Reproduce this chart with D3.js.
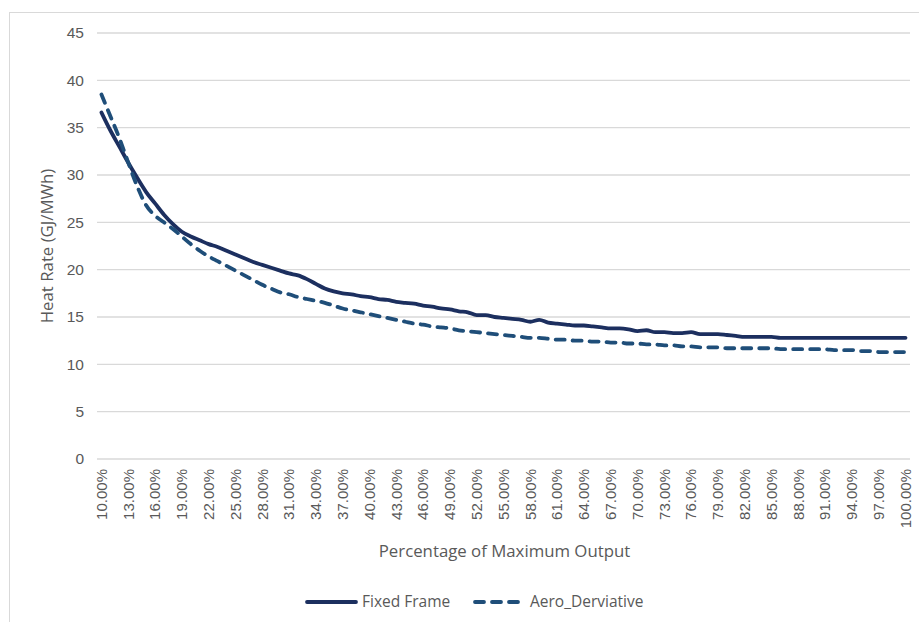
<!DOCTYPE html>
<html>
<head>
<meta charset="utf-8">
<script src="https://cdn.jsdelivr.net/npm/d3@7/dist/d3.min.js"></script>
<style>
  html, body { margin: 0; padding: 0; background: #fff; }
  svg { display: block; font-family: "Open Sans", "Noto Sans", sans-serif; }
</style>
</head>
<body>
<svg id="chart" width="919" height="622"></svg>
<script>
/* data */
const categories = d3.range(10, 101).map(p => p.toFixed(2) + '%')

const fixedFrame = [
  36.6, 34.7, 33.0, 31.3, 29.7, 28.2, 27.0, 25.8, 24.8, 24.0,
  23.5, 23.1, 22.7, 22.4, 22.0, 21.6, 21.2, 20.8, 20.5, 20.2,
  19.9, 19.6, 19.4, 19.0, 18.5, 18.0, 17.7, 17.5, 17.4, 17.2,
  17.1, 16.9, 16.8, 16.6, 16.5, 16.4, 16.2, 16.1, 15.9, 15.8,
  15.6, 15.5, 15.2, 15.2, 15.0, 14.9, 14.8, 14.7, 14.5, 14.7,
  14.4, 14.3, 14.2, 14.1, 14.1, 14.0, 13.9, 13.8, 13.8, 13.7,
  13.5, 13.6, 13.4, 13.4, 13.3, 13.3, 13.4, 13.2, 13.2, 13.2,
  13.1, 13.0, 12.9, 12.9, 12.9, 12.9, 12.8, 12.8, 12.8, 12.8,
  12.8, 12.8, 12.8, 12.8, 12.8, 12.8, 12.8, 12.8, 12.8, 12.8,
  12.8
]

const aeroDerivative = [
  38.5, 36.2, 33.9, 31.3, 28.8, 26.8, 25.7, 25.0, 24.3, 23.5,
  22.7, 22.0, 21.4, 20.9, 20.4, 19.9, 19.4, 18.9, 18.4, 18.0,
  17.6, 17.4, 17.1, 16.9, 16.7, 16.5, 16.2, 15.9, 15.7, 15.5,
  15.3, 15.1, 14.9, 14.7, 14.5, 14.3, 14.2, 14.0, 13.9, 13.8,
  13.6, 13.5, 13.4, 13.3, 13.2, 13.1, 13.0, 12.9, 12.8, 12.8,
  12.7, 12.6, 12.6, 12.5, 12.5, 12.4, 12.4, 12.3, 12.3, 12.2,
  12.2, 12.1, 12.1, 12.0, 12.0, 11.9, 11.9, 11.8, 11.8, 11.8,
  11.7, 11.7, 11.7, 11.7, 11.7, 11.7, 11.6, 11.6, 11.6, 11.6,
  11.6, 11.6, 11.5, 11.5, 11.5, 11.4, 11.4, 11.3, 11.3, 11.3,
  11.3
]

const yTicks = [0, 5, 10, 15, 20, 25, 30, 35, 40, 45]
const xTickEvery = 3

const series = [
  { name: 'Fixed Frame', values: fixedFrame, color: '#1c2f5f', dash: null },
  { name: 'Aero_Derviative', values: aeroDerivative, color: '#1f4e79', dash: '9,8' }
]

/* layout */
const W = 919, H = 622
const m = { left: 97, right: 9, top: 33, bottom: 163 }
const iw = W - m.left - m.right
const ih = H - m.top - m.bottom
const textColor = '#595959'

const svg = d3.select('#chart')

// outer chart border
svg.append('rect')
  .attr('x', 9.5).attr('y', 12.5)
  .attr('width', W).attr('height', H)
  .attr('fill', 'none')
  .attr('stroke', '#d9d9d9')
  .attr('stroke-width', 1)

const g = svg.append('g').attr('transform', `translate(${m.left},${m.top})`)

const x = d3.scaleBand().domain(categories).range([0, iw]).padding(0)
const y = d3.scaleLinear().domain([0, 45]).range([ih, 0])

/* gridlines */
g.append('g')
  .selectAll('line')
  .data(yTicks)
  .join('line')
  .attr('x1', 0).attr('x2', iw)
  .attr('y1', d => y(d)).attr('y2', d => y(d))
  .attr('stroke', '#d9d9d9')
  .attr('stroke-width', 1.3)

/* y axis */
const yAxis = g.append('g')
  .call(d3.axisLeft(y).tickValues(yTicks).tickSize(0).tickPadding(13))
yAxis.select('.domain').remove()
yAxis.selectAll('text')
  .attr('fill', textColor)
  .style('font-size', '15.5px')

/* x axis */
const xAxis = g.append('g')
  .attr('transform', `translate(0,${ih})`)
  .call(d3.axisBottom(x)
    .tickValues(categories.filter((d, i) => i % xTickEvery === 0))
    .tickSize(0))
xAxis.select('.domain').remove()
xAxis.selectAll('text')
  .attr('fill', textColor)
  .style('font-size', '15px')
  .attr('transform', 'rotate(-90)')
  .attr('text-anchor', 'end')
  .attr('x', -10)
  .attr('y', 0)
  .attr('dy', '0.35em')

/* axis titles */
svg.append('text')
  .attr('x', m.left + iw / 2 + 1)
  .attr('y', 557)
  .attr('text-anchor', 'middle')
  .attr('fill', textColor)
  .style('font-size', '16.8px')
  .text('Percentage of Maximum Output')

svg.append('text')
  .attr('transform', `translate(53,${m.top + ih / 2}) rotate(-90)`)
  .attr('text-anchor', 'middle')
  .attr('fill', textColor)
  .style('font-size', '16.8px')
  .text('Heat Rate (GJ/MWh)')

/* lines */
const line = d3.line()
  .x((d, i) => x(categories[i]) + x.bandwidth() / 2)
  .y(d => y(d))
  .curve(d3.curveMonotoneX)

g.selectAll('path.series')
  .data(series)
  .join('path')
  .attr('class', 'series')
  .attr('d', d => line(d.values))
  .attr('fill', 'none')
  .attr('stroke', d => d.color)
  .attr('stroke-width', 3.8)
  .attr('stroke-linecap', 'round')
  .attr('stroke-linejoin', 'round')
  .attr('stroke-dasharray', d => d.dash)

/* legend */
const legendX = [305, 473]
const legend = svg.append('g')
  .selectAll('g')
  .data(series)
  .join('g')
  .attr('transform', (d, i) => `translate(${legendX[i]},602)`)

legend.append('line')
  .attr('x1', 2).attr('x2', 51)
  .attr('y1', 0).attr('y2', 0)
  .attr('stroke', d => d.color)
  .attr('stroke-width', 3.8)
  .attr('stroke-linecap', 'round')
  .attr('stroke-dasharray', d => d.dash)

legend.append('text')
  .attr('x', 57)
  .attr('y', 0)
  .attr('dy', '0.35em')
  .attr('fill', textColor)
  .style('font-size', '15.5px')
  .text(d => d.name)
</script>
</body>
</html>
